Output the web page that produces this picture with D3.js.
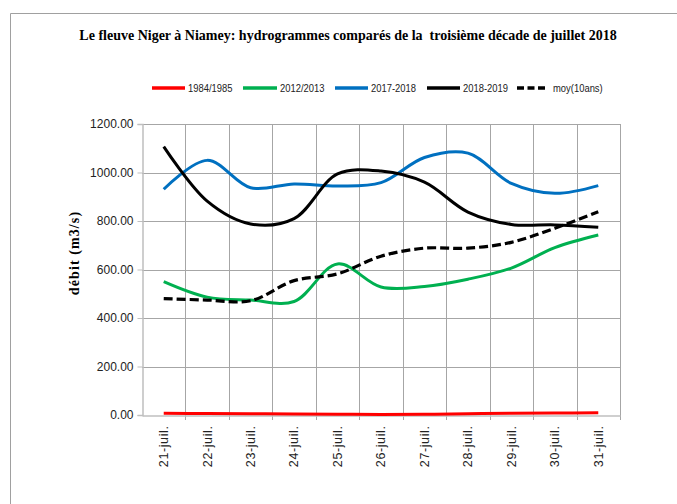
<!DOCTYPE html>
<html>
<head>
<meta charset="utf-8">
<script src="https://cdn.jsdelivr.net/npm/d3@7"></script>
<style>
  body { margin: 0; background: #fff; }
  svg { display: block; }
</style>
</head>
<body>
<svg id="chart" width="677" height="504"></svg>
<script>
// dates (troisième décade de juillet)
var days = ['21-juil.', '22-juil.', '23-juil.', '24-juil.', '25-juil.', '26-juil.',
            '27-juil.', '28-juil.', '29-juil.', '30-juil.', '31-juil.'];

// débits en m3/s
var s1984 = [7, 6, 5, 4, 3, 2, 3, 5, 7, 8, 9];
var s2012 = [550, 486, 474, 468, 623, 528, 530, 560, 606, 690, 742];
var s2017 = [931, 1050, 937, 953, 944, 958, 1062, 1080, 955, 914, 946];
var s2018 = [1107, 882, 788, 810, 994, 1006, 960, 837, 786, 784, 774];
var moy = [480, 474, 471, 554, 582, 655, 688, 688, 712, 770, 838];

var yTicks = [0, 200, 400, 600, 800, 1000, 1200];

var series = [
  { name: '1984/1985', values: s1984, color: '#ff0000', dash: null },
  { name: '2012/2013', values: s2012, color: '#00b050', dash: null },
  { name: '2017-2018', values: s2017, color: '#0070c0', dash: null },
  { name: '2018-2019', values: s2018, color: '#000000', dash: null },
  { name: 'moy(10ans)', values: moy, color: '#000000', dash: '9,4' }
];

(function() {
  var svg = d3.select('#chart'),
      pLeft = 142, pRight = 620, pTop = 124, pBottom = 415;

  // cadre extérieur (haut et gauche)
  svg.append('path')
    .attr('d', 'M10.5,504 V13.5 H677')
    .attr('fill', 'none').attr('stroke', '#a0a0a0').attr('stroke-width', 1);

  svg.append('text')
    .attr('x', 348).attr('y', 40)
    .attr('text-anchor', 'middle')
    .attr('font-family', '"Liberation Serif", "Times New Roman", serif')
    .attr('font-weight', 'bold').attr('font-size', 14)
    .style('white-space', 'pre')
    .text('Le fleuve Niger à Niamey: hydrogrammes comparés de la  troisième décade de juillet 2018');

  var x = d3.scaleBand().domain(days).range([pLeft, pRight]).padding(0);
  var y = d3.scaleLinear().domain([0, 1200]).range([pBottom, pTop]);

  var grid = svg.append('g').attr('stroke', '#a6a6a6').attr('stroke-width', 1);
  yTicks.forEach(function(t) {
    if (t === 0) return;
    grid.append('line')
      .attr('x1', pLeft).attr('x2', pRight)
      .attr('y1', Math.round(y(t)) + 0.5).attr('y2', Math.round(y(t)) + 0.5);
  });
  days.forEach(function(d, i) {
    if (i === 0) return;
    var gx = Math.round(x(d)) + 0.5;
    grid.append('line').attr('x1', gx).attr('x2', gx).attr('y1', pTop).attr('y2', pBottom + 5);
  });
  grid.append('line').attr('x1', pRight + 0.5).attr('x2', pRight + 0.5)
    .attr('y1', pTop).attr('y2', pBottom + 5);

  // axe Y
  var yAxis = svg.append('g')
    .attr('transform', 'translate(' + (pLeft + 0.5) + ',0)')
    .call(d3.axisLeft(y).tickValues(yTicks).tickSize(5).tickPadding(4)
      .tickFormat(function(d) { return d3.format('.2f')(d); }));
  yAxis.select('.domain').attr('stroke', '#bfbfbf').attr('stroke-width', 1.5);
  yAxis.selectAll('.tick line').attr('stroke', '#bfbfbf');
  yAxis.selectAll('text')
    .attr('font-family', '"Liberation Sans", Arial, sans-serif')
    .attr('font-size', 12).attr('fill', '#222');

  // axe X
  var xAxis = svg.append('g')
    .attr('transform', 'translate(0,' + (pBottom + 0.5) + ')')
    .call(d3.axisBottom(x).tickSize(0).tickPadding(0));
  xAxis.select('.domain').attr('stroke', '#bfbfbf').attr('stroke-width', 1.5);
  xAxis.selectAll('text')
    .attr('font-family', '"Liberation Sans", Arial, sans-serif')
    .attr('font-size', 12.5).attr('fill', '#222')
    .attr('letter-spacing', 0.6)
    .attr('text-anchor', 'end')
    .attr('dy', '0.35em')
    .attr('transform', 'translate(0,10) rotate(-90)');

  svg.append('text')
    .attr('transform', 'translate(79,253) rotate(-90)')
    .attr('text-anchor', 'middle')
    .attr('font-family', '"Liberation Serif", "Times New Roman", serif')
    .attr('font-weight', 'bold').attr('font-size', 14)
    .attr('letter-spacing', 1.1)
    .text('débit (m3/s)');

  var line = d3.line()
    .x(function(d, i) { return x(days[i]) + x.bandwidth() / 2; })
    .y(function(d) { return y(d); })
    .curve(d3.curveCatmullRom.alpha(0.5));

  svg.append('g').selectAll('path')
    .data(series)
    .join('path')
    .attr('d', function(s) { return line(s.values); })
    .attr('fill', 'none')
    .attr('stroke', function(s) { return s.color; })
    .attr('stroke-width', function(s) { return s.dash ? 3.2 : 3; })
    .attr('stroke-dasharray', function(s) { return s.dash; });

  // légende
  var legX = [152, 243, 335, 427, 517],
      legLen = [33, 34, 33, 33, 28],
      legY = 88;
  var leg = svg.append('g');
  series.forEach(function(s, i) {
    leg.append('line')
      .attr('x1', legX[i]).attr('x2', legX[i] + legLen[i])
      .attr('y1', legY).attr('y2', legY)
      .attr('stroke', s.color).attr('stroke-width', 3.5)
      .attr('stroke-dasharray', s.dash ? '7,3.5' : null);
    leg.append('text')
      .attr('transform', 'translate(' + (legX[i] + legLen[i] + (s.dash ? 8 : 3)) + ',' + legY + ') scale(0.82,1)')
      .attr('dy', '0.35em')
      .attr('font-family', '"Liberation Sans", Arial, sans-serif')
      .attr('font-size', 11.5).attr('fill', '#222')
      .text(s.name);
  });
})();
</script>
</body>
</html>
